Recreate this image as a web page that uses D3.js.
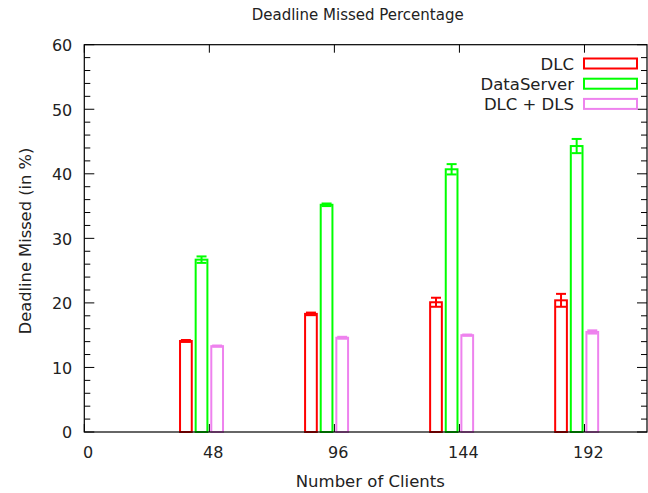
<!DOCTYPE html>
<html>
<head>
<meta charset="utf-8">
<script src="https://cdn.jsdelivr.net/npm/d3@7"></script>
<style>
  html, body { margin: 0; padding: 0; background: #fff; }
  svg { display: block; font-family: "DejaVu Sans", sans-serif; }
</style>
</head>
<body>
<svg id="chart" width="648" height="493"></svg>
<script>
// ---- data ----
const clients = [48, 96, 144, 192];
const seriesNames = ["DLC", "DataServer", "DLC + DLS"];
const dlcValues = [14.1, 18.3, 20.1, 20.4];
const dlcErrors = [0.15, 0.2, 0.7, 1.0];
const dataServerValues = [26.7, 35.2, 40.7, 44.3];
const dataServerErrors = [0.5, 0.2, 0.8, 1.1];
const dlcDlsValues = [13.3, 14.6, 15.0, 15.5];
const dlcDlsErrors = [0.1, 0.15, 0.1, 0.25];
const xTickValues = [0, 48, 96, 144, 192];
const yTickValues = [0, 10, 20, 30, 40, 50, 60];

// ---- layout / style ----
const colors = ["#ff0000", "#00ff00", "#ee82ee"];
const barOffsets = [-9, -3, 3];   // in x units
const barWidth = 4.5;             // in x units
const margin = { left: 84.3, right: 647, top: 44.7, bottom: 432 };

const svg = d3.select("#chart");
const x = d3.scaleLinear().domain([0, 216]).range([margin.left, margin.right]);
const y = d3.scaleLinear().domain([0, 60]).range([margin.bottom, margin.top]);

const series = [
  { name: seriesNames[0], values: dlcValues, errors: dlcErrors, color: colors[0], off: barOffsets[0] },
  { name: seriesNames[1], values: dataServerValues, errors: dataServerErrors, color: colors[1], off: barOffsets[1] },
  { name: seriesNames[2], values: dlcDlsValues, errors: dlcDlsErrors, color: colors[2], off: barOffsets[2] }
];

const axisColor = "#000";
const fontSize = 16;

// ticks (drawn first, below bars)
const tickG = svg.append("g").attr("stroke", axisColor).attr("stroke-width", 1);
const yMinor = d3.range(0, 61, 2).filter(v => v % 10 !== 0);
yMinor.forEach(v => {
  tickG.append("line").attr("x1", x(0)).attr("x2", x(0) + 6).attr("y1", y(v)).attr("y2", y(v));
  tickG.append("line").attr("x1", x(216)).attr("x2", x(216) - 6).attr("y1", y(v)).attr("y2", y(v));
});
yTickValues.forEach(v => {
  tickG.append("line").attr("x1", x(0)).attr("x2", x(0) + 10).attr("y1", y(v)).attr("y2", y(v));
  tickG.append("line").attr("x1", x(216)).attr("x2", x(216) - 10).attr("y1", y(v)).attr("y2", y(v));
});
xTickValues.forEach(v => {
  tickG.append("line").attr("x1", x(v)).attr("x2", x(v)).attr("y1", y(0)).attr("y2", y(0) - 8);
  tickG.append("line").attr("x1", x(v)).attr("x2", x(v)).attr("y1", y(60)).attr("y2", y(60) + 8);
});

// bars
const pxW = x(barWidth) - x(0);
series.forEach(s => {
  const g = svg.append("g").attr("stroke", s.color).attr("stroke-width", 2).attr("fill", "none");
  clients.forEach((c, i) => {
    const cx = x(c + s.off);
    g.append("rect")
      .attr("x", cx - pxW / 2).attr("width", pxW)
      .attr("y", y(s.values[i])).attr("height", y(0) - y(s.values[i]));
    const hi = y(s.values[i] + s.errors[i]), lo = y(s.values[i] - s.errors[i]);
    g.append("line").attr("x1", cx).attr("x2", cx).attr("y1", hi).attr("y2", lo);
    g.append("line").attr("x1", cx - 5).attr("x2", cx + 5).attr("y1", hi).attr("y2", hi);
    g.append("line").attr("x1", cx - 5).attr("x2", cx + 5).attr("y1", lo).attr("y2", lo);
  });
});

// border
svg.append("rect")
  .attr("x", x(0)).attr("y", y(60))
  .attr("width", x(216) - x(0)).attr("height", y(0) - y(60))
  .attr("fill", "none").attr("stroke", axisColor).attr("stroke-width", 1.2);

// tick labels via axes (lines hidden)
const yAxis = d3.axisLeft(y).tickValues(yTickValues).tickSize(0).tickPadding(0);
const yAx = svg.append("g").attr("transform", `translate(${x(0) - 12},0)`).call(yAxis);
yAx.select(".domain").remove();
yAx.selectAll("text").attr("font-size", fontSize).attr("font-family", "DejaVu Sans").attr("fill", "#222").attr("dy", "0.36em");

const xAxis = d3.axisBottom(x).tickValues(xTickValues).tickSize(0).tickPadding(0);
const xAx = svg.append("g").attr("transform", `translate(3.4,${y(0)})`).call(xAxis);
xAx.select(".domain").remove();
xAx.selectAll("text").attr("font-size", fontSize).attr("font-family", "DejaVu Sans").attr("fill", "#222").attr("y", 25.5).attr("dy", 0);

// titles
svg.append("text").attr("x", 357.7).attr("y", 19.5).attr("text-anchor", "middle")
  .attr("font-size", 15).attr("fill", "#222").text("Deadline Missed Percentage");
svg.append("text").attr("x", 370.3).attr("y", 486.5).attr("text-anchor", "middle")
  .attr("font-size", 16.5).attr("fill", "#222").text("Number of Clients");
svg.append("text").attr("transform", "translate(31,241) rotate(-90)").attr("text-anchor", "middle")
  .attr("font-size", 16.3).attr("fill", "#222").text("Deadline Missed (in %)");

// legend
const legend = svg.append("g");
series.forEach((s, i) => {
  const cy = 63.5 + i * 20.2;
  legend.append("text").attr("x", 574).attr("y", cy + 6).attr("text-anchor", "end")
    .attr("font-size", 16.5).attr("fill", "#222").text(s.name);
  legend.append("rect").attr("x", 584).attr("y", cy - 5).attr("width", 53).attr("height", 10)
    .attr("fill", "none").attr("stroke", s.color).attr("stroke-width", 2);
});
</script>
</body>
</html>
